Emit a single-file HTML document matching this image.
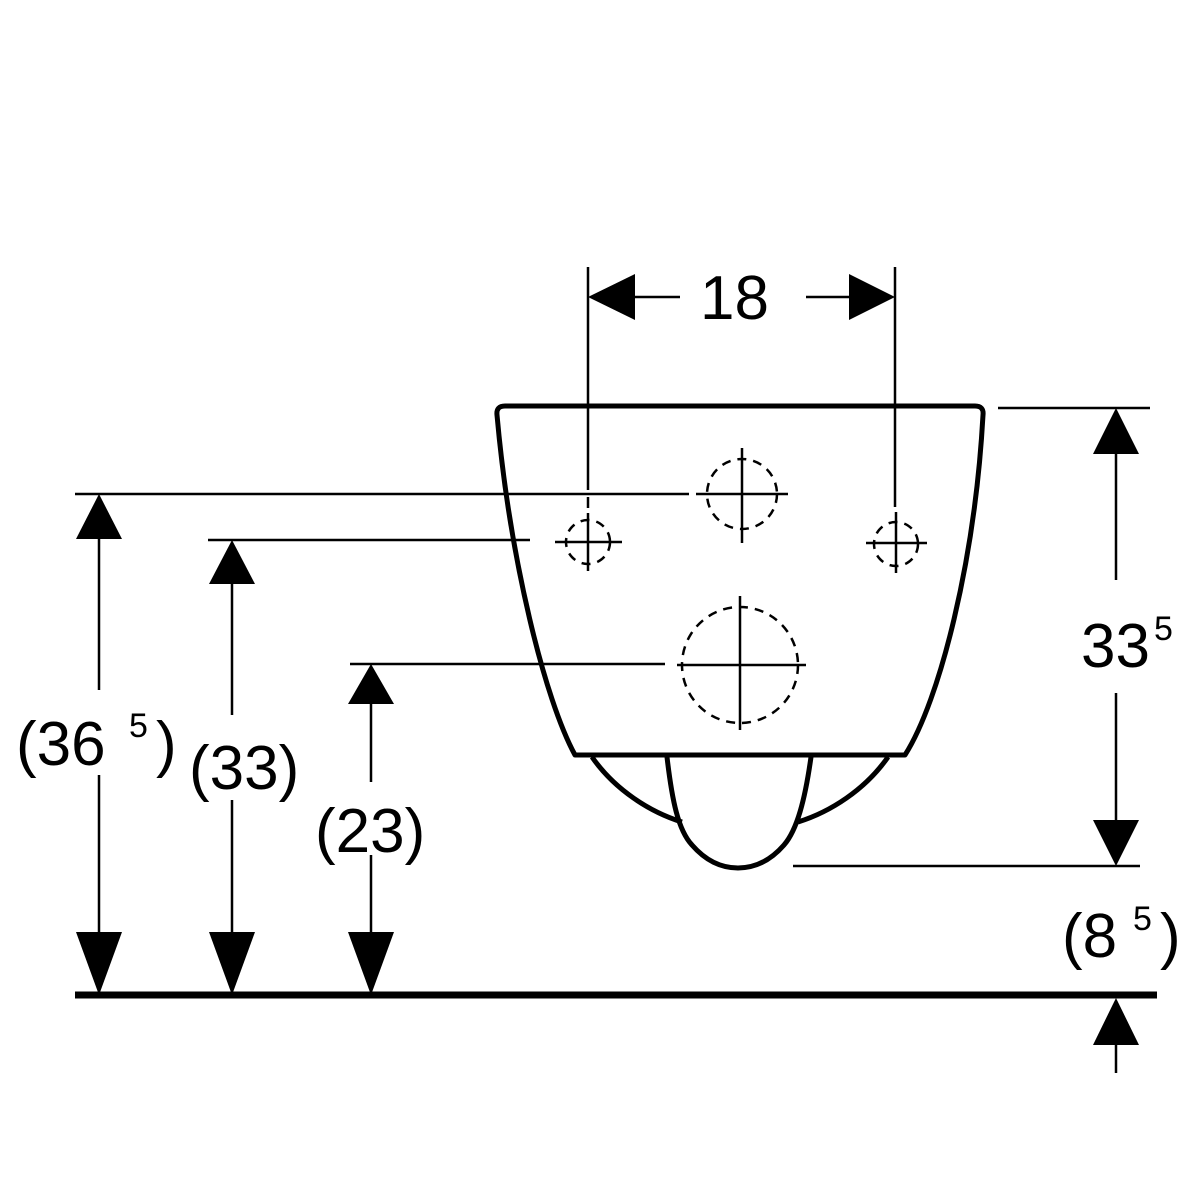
<!DOCTYPE html>
<html><head><style>body{margin:0;background:#fff}svg{display:block}text{font-family:"Liberation Sans",sans-serif;fill:#000}</style></head>
<body>
<svg width="1200" height="1200" viewBox="0 0 1200 1200" xmlns="http://www.w3.org/2000/svg">
<g stroke="#000" fill="none" stroke-linecap="butt">
<!-- bowl -->
<path d="M575,755 C545,700 510,560 497,415 Q496,406 505,406 L975,406 Q984,406 983,415 C975,560 940,700 905,755 Z" stroke-width="5" stroke-linejoin="round"/>
<path d="M592,757 C615,790 650,812 682,822" stroke-width="5"/>
<path d="M888,757 C865,790 830,812 798,822" stroke-width="5"/>
<path d="M667,757 C672,800 678,830 692,845 Q712,868 738,868 Q764,868 784,845 C797,830 805,800 811,757" stroke-width="5"/>
<!-- circles -->
<g stroke-width="2.5" stroke-dasharray="9,7">
<circle cx="742" cy="494" r="35"/>
<circle cx="588" cy="542" r="22"/>
<circle cx="896" cy="544" r="22"/>
<circle cx="740" cy="665" r="58"/>
</g>
<g stroke-width="2.5">
<line x1="742" y1="448" x2="742" y2="543"/><line x1="696" y1="494" x2="788" y2="494"/>
<line x1="588" y1="513" x2="588" y2="571"/><line x1="555" y1="542" x2="622" y2="542"/>
<line x1="896" y1="512" x2="896" y2="573"/><line x1="866" y1="543" x2="927" y2="543"/>
<line x1="740" y1="596" x2="740" y2="730"/><line x1="677" y1="665" x2="806" y2="665"/>
<!-- extension lines -->
<line x1="75" y1="494" x2="689" y2="494"/>
<line x1="208" y1="540" x2="530" y2="540"/>
<line x1="350" y1="664" x2="665" y2="664"/>
<line x1="588" y1="267" x2="588" y2="490"/><line x1="588" y1="497" x2="588" y2="508"/>
<line x1="895" y1="267" x2="895" y2="507"/>
<line x1="998" y1="408" x2="1150" y2="408"/>
<line x1="793" y1="866" x2="1140" y2="866"/>
<!-- dimension lines -->
<line x1="99" y1="530" x2="99" y2="690"/><line x1="99" y1="775" x2="99" y2="960"/>
<line x1="232" y1="575" x2="232" y2="715"/><line x1="232" y1="800" x2="232" y2="960"/>
<line x1="371" y1="700" x2="371" y2="782"/><line x1="371" y1="855" x2="371" y2="960"/>
<line x1="1116" y1="445" x2="1116" y2="580"/><line x1="1116" y1="693" x2="1116" y2="830"/>
<line x1="1116" y1="1035" x2="1116" y2="1073"/>
<line x1="630" y1="297" x2="680" y2="297"/><line x1="806" y1="297" x2="855" y2="297"/>
</g>
<line x1="75" y1="995" x2="1157" y2="995" stroke-width="7"/>
</g>
<g fill="#000">
<polygon points="99,494 76,539 122,539"/><polygon points="99,995 76,932 122,932"/>
<polygon points="232,540 209,584 255,584"/><polygon points="232,995 209,932 255,932"/>
<polygon points="371,664 348,704 394,704"/><polygon points="371,995 348,932 394,932"/>
<polygon points="1116,408 1093,454 1139,454"/><polygon points="1116,866 1093,820 1139,820"/>
<polygon points="1116,998 1093,1045 1139,1045"/>
<polygon points="588,297 635,274 635,320"/><polygon points="895,297 849,274 849,320"/>
</g>
<g font-size="62">
<text x="700" y="319">18</text>
<text x="16" y="765">(36</text><text x="129" y="737" font-size="34">5</text><text x="156" y="765">)</text>
<text x="189" y="789">(33)</text>
<text x="315" y="852">(23)</text>
<text x="1081" y="667">33</text><text x="1154" y="640" font-size="34">5</text>
<text x="1062" y="957">(8</text><text x="1133" y="930" font-size="34">5</text><text x="1160" y="957">)</text>
</g>
</svg>
</body></html>
